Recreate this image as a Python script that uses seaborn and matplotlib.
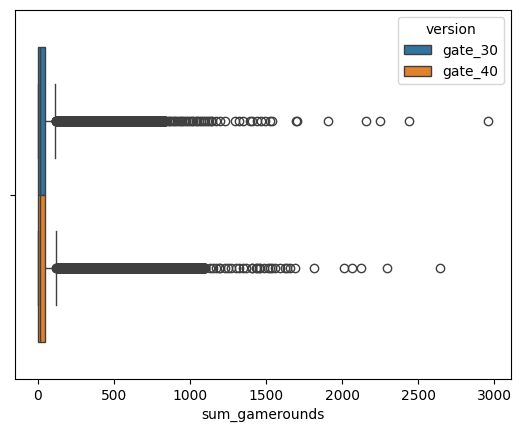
import numpy as np
import pandas as pd
import matplotlib
matplotlib.use("Agg")
import matplotlib.pyplot as plt
import seaborn as sns

# ---- data ----
versions = ["gate_30", "gate_40"]

# bulk of the distribution (value, how many players) — sets the box
core_values_30 = [0, 5, 17, 50, 116]
core_counts_30 = [800, 400, 1000, 1000, 30]
core_values_40 = [0, 5, 16, 52, 122]
core_counts_40 = [800, 400, 1000, 1000, 30]

# outliers: every integer round count occurs in the solid band
dense_band_30 = (118, 840)
dense_band_40 = (123, 1100)
mid_outliers_30 = [850, 862, 871, 885, 893, 905, 917, 926, 940, 951, 963, 975,
                   988, 1000, 1012, 1024, 1038, 1049, 1060, 1075, 1088, 1100,
                   1114, 1125, 1140, 1146, 1172, 1200, 1233, 1298, 1320, 1352,
                   1396, 1411, 1439, 1468, 1494, 1526, 1541]
far_outliers_30 = [1697, 1705, 1906, 2156, 2251, 2438, 2961]
mid_outliers_40 = [1135, 1150, 1172, 1189, 1200, 1233, 1250, 1272, 1302, 1322,
                   1352, 1370, 1406, 1411, 1432, 1439, 1455, 1461, 1489, 1515,
                   1526, 1537, 1559, 1592, 1624, 1635, 1657, 1690]
far_outliers_40 = [1816, 2015, 2063, 2124, 2294, 2640]


def build(core_values, core_counts, band, mid, far):
    vals = list(np.repeat(core_values, core_counts))
    vals += list(range(band[0], band[1]))
    vals += mid + far
    return vals


v30 = build(core_values_30, core_counts_30, dense_band_30, mid_outliers_30, far_outliers_30)
v40 = build(core_values_40, core_counts_40, dense_band_40, mid_outliers_40, far_outliers_40)

df = pd.DataFrame({
    "sum_gamerounds": v30 + v40,
    "version": [versions[0]] * len(v30) + [versions[1]] * len(v40),
})

fig = plt.figure(figsize=(5.22, 4.33), dpi=100)
ax = fig.add_axes([15 / 522, 1 - 379 / 433, 496 / 522, 369 / 433])
sns.boxplot(data=df, x="sum_gamerounds", hue="version", ax=ax)
sns.move_legend(ax, "upper right")
fig.savefig("out.png", dpi=100)
